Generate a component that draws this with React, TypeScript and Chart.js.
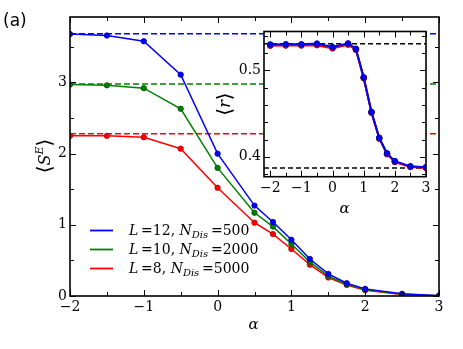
import React, { useEffect, useRef } from 'react';
import { Chart, registerables } from 'chart.js';
Chart.register(...registerables);

// ---------- data ----------
const alpha = [-2, -1.5, -1, -0.5, 0, 0.5, 0.75, 1, 1.25, 1.5, 1.75, 2, 2.5, 3];
const entL12 = [3.68, 3.66, 3.58, 3.11, 2.0, 1.27, 1.04, 0.79, 0.52, 0.31, 0.18, 0.1, 0.03, 0.005];
const entL10 = [2.97, 2.96, 2.92, 2.63, 1.8, 1.17, 0.975, 0.73, 0.48, 0.28, 0.165, 0.09, 0.025, 0.004];
const entL8 = [2.25, 2.25, 2.23, 2.07, 1.52, 1.03, 0.87, 0.66, 0.44, 0.26, 0.155, 0.08, 0.02, 0.003];
const entPage = [3.685, 2.98, 2.28]; // dashed reference levels for L=12,10,8

const rL12 = [0.53, 0.5302, 0.5302, 0.531, 0.527, 0.5312, 0.525, 0.492, 0.452, 0.422, 0.404, 0.395, 0.389, 0.388];
const rL10 = [0.5293, 0.5294, 0.5295, 0.53, 0.5262, 0.5305, 0.5243, 0.4915, 0.4515, 0.4215, 0.4035, 0.3945, 0.3886, 0.3876];
const rL8 = [0.5286, 0.5288, 0.5288, 0.5292, 0.5255, 0.5298, 0.5238, 0.491, 0.451, 0.421, 0.403, 0.394, 0.3882, 0.3872];
const rRefs = [0.5308, 0.387]; // GOE / Poisson levels

const mainXTicks = [-2, -1.5, -1, -0.5, 0, 0.5, 1, 1.5, 2, 2.5, 3];
const mainYTicks = [0, 0.5, 1, 1.5, 2, 2.5, 3, 3.5];
const insetXTicks = [-2, -1.5, -1, -0.5, 0, 0.5, 1, 1.5, 2, 2.5, 3];
const insetYTicks = [0.38, 0.4, 0.42, 0.44, 0.46, 0.48, 0.5, 0.52, 0.54];
const insetYLabels = [0.4, 0.5];

const seriesNames = [
  { L: '12', N: '500' },
  { L: '10', N: '2000' },
  { L: '8', N: '5000' },
];
const colors = ['#0000ff', '#008000', '#ff0000'];
const edgeColors = ['#0000b0', '#005000', '#b00000'];

const MAIN_X = [-2, 3];
const MAIN_Y = [0, 3.92];
const INSET_X = [-2.2, 3];
const INSET_Y = [0.377, 0.545];

const SERIF = "'DejaVu Serif', serif";
const W = 463;
const H = 349;

// ---------- helpers ----------
type Part = { t: string; font: string; dy?: number };
function drawRich(ctx: CanvasRenderingContext2D, parts: Part[], x: number, y: number, align: 'left' | 'center' = 'left') {
  let w = 0;
  for (const p of parts) {
    ctx.font = p.font;
    w += ctx.measureText(p.t).width;
  }
  let cx = align === 'center' ? x - w / 2 : x;
  ctx.textAlign = 'left';
  ctx.textBaseline = 'alphabetic';
  for (const p of parts) {
    ctx.font = p.font;
    ctx.fillText(p.t, cx, y + (p.dy || 0));
    cx += ctx.measureText(p.t).width;
  }
}

const fmt = (v: number) => (v < 0 ? '\u2212' : '') + String(Math.abs(Math.round(v * 100) / 100));
const near = (a: number, b: number) => Math.abs(a - b) < 1e-6;

function framePlugin(o: {
  id: string;
  fill?: boolean;
  xMajor: (v: number) => boolean;
  yMajor: (v: number) => boolean;
  major: number;
  minor: number;
  border: number;
  extra?: (ctx: CanvasRenderingContext2D, chart: any) => void;
}) {
  return {
    id: o.id,
    beforeDraw(chart: any) {
      if (!o.fill) return;
      const { ctx, chartArea: a } = chart;
      ctx.save();
      ctx.fillStyle = '#ffffff';
      ctx.fillRect(a.left, a.top, a.right - a.left, a.bottom - a.top);
      ctx.restore();
    },
    afterDraw(chart: any) {
      const { ctx, chartArea: a, scales } = chart;
      ctx.save();
      ctx.strokeStyle = '#000';
      ctx.lineWidth = 1;
      ctx.beginPath();
      for (const t of scales.x.ticks) {
        const p = Math.round(scales.x.getPixelForValue(t.value)) + 0.5;
        const L = o.xMajor(t.value) ? o.major : o.minor;
        ctx.moveTo(p, a.bottom);
        ctx.lineTo(p, a.bottom - L);
        ctx.moveTo(p, a.top);
        ctx.lineTo(p, a.top + L);
      }
      for (const t of scales.y.ticks) {
        const p = Math.round(scales.y.getPixelForValue(t.value)) + 0.5;
        const L = o.yMajor(t.value) ? o.major : o.minor;
        ctx.moveTo(a.left, p);
        ctx.lineTo(a.left + L, p);
        ctx.moveTo(a.right, p);
        ctx.lineTo(a.right - L, p);
      }
      ctx.stroke();
      ctx.lineWidth = o.border;
      ctx.strokeRect(a.left, a.top, a.right - a.left, a.bottom - a.top);
      ctx.fillStyle = '#000';
      if (o.extra) o.extra(ctx, chart);
      ctx.restore();
    },
  };
}

const pts = (ys: number[]) => alpha.map((x, i) => ({ x, y: ys[i] }));
const level = (y: number, xr: number[]) => [
  { x: xr[0], y },
  { x: xr[1], y },
];

function axisTicks(values: number[], label: (v: number) => string, padding: number, extra: any = {}) {
  return {
    afterBuildTicks: (s: any) => {
      s.ticks = values.map((v) => ({ value: v }));
    },
    ticks: {
      autoSkip: false,
      maxRotation: 0,
      padding,
      color: '#000',
      font: { family: SERIF, size: 14 },
      callback: (v: any) => label(Number(v)),
    },
    grid: { display: false, drawTicks: false },
    border: { display: false },
    ...extra,
  };
}

// ---------- main chart ----------
// Chart.js paints dataset 0 last (on top), so the order here is top -> bottom.
function mainConfig(): any {
  const lines = [entL12, entL10, entL8].map((ys, i) => ({
    data: pts(ys),
    borderColor: colors[i],
    backgroundColor: colors[i],
    borderWidth: 1.5,
    pointRadius: 2.7,
    pointBackgroundColor: colors[i],
    pointBorderColor: edgeColors[i],
    pointBorderWidth: 0.8,
  }));
  const dashed = entPage.map((y, i) => ({
    data: level(y, MAIN_X),
    borderColor: colors[i],
    borderWidth: 1.5,
    borderDash: [6, 3],
    pointRadius: 0,
  }));
  return {
    type: 'line',
    data: { datasets: [...lines, ...dashed] },
    options: {
      animation: false,
      responsive: false,
      events: [],
      layout: { padding: { left: 0, top: 17, right: 24, bottom: 0 } },
      plugins: { legend: { display: false }, tooltip: { enabled: false } },
      scales: {
        x: {
          type: 'linear',
          min: MAIN_X[0],
          max: MAIN_X[1],
          afterFit: (s: any) => {
            s.height = 53;
          },
          ...axisTicks(mainXTicks, (v) => (Number.isInteger(v) ? fmt(v) : ''), 3),
        },
        y: {
          type: 'linear',
          min: MAIN_Y[0],
          max: MAIN_Y[1],
          afterFit: (s: any) => {
            s.width = 70;
          },
          ...axisTicks(mainYTicks, (v) => (Number.isInteger(v) ? fmt(v) : ''), 3),
        },
      },
    },
    plugins: [
      framePlugin({
        id: 'mainFrame',
        xMajor: (v) => Number.isInteger(v),
        yMajor: (v) => Number.isInteger(v),
        major: 6,
        minor: 4,
        border: 1.6,
        extra: (ctx) => {
          // panel tag
          ctx.font = "17px 'DejaVu Sans', sans-serif";
          ctx.textAlign = 'left';
          ctx.textBaseline = 'alphabetic';
          ctx.fillText('(a)', 3, 26);
          // x label
          drawRich(ctx, [{ t: '\u03b1', font: `italic 15px ${SERIF}` }], 253.5, 329, 'center');
          // y label
          ctx.save();
          ctx.translate(44, 156);
          ctx.rotate(-Math.PI / 2);
          drawRich(
            ctx,
            [
              { t: '\u27e8', font: `20px ${SERIF}`, dy: 1 },
              { t: 'S', font: `italic 16px ${SERIF}` },
              { t: 'E', font: `italic 11px ${SERIF}`, dy: -7 },
              { t: '\u27e9', font: `20px ${SERIF}`, dy: 1 },
            ],
            0,
            6,
            'center'
          );
          ctx.restore();
          // legend
          const rows = [230, 249, 268];
          seriesNames.forEach((s, i) => {
            const y = rows[i];
            ctx.strokeStyle = colors[i];
            ctx.lineWidth = 1.8;
            ctx.beginPath();
            ctx.moveTo(90, y + 0.5);
            ctx.lineTo(113, y + 0.5);
            ctx.stroke();
            ctx.fillStyle = '#000';
            drawRich(
              ctx,
              [
                { t: 'L', font: `italic 14px ${SERIF}` },
                { t: '\u2009=' + s.L + ', ', font: `14px ${SERIF}` },
                { t: 'N', font: `italic 14px ${SERIF}` },
                { t: 'Dis', font: `italic 10px ${SERIF}`, dy: 3 },
                { t: '\u2009=' + s.N, font: `14px ${SERIF}` },
              ],
              129,
              y + 5
            );
          });
        },
      }),
    ],
  };
}

// ---------- inset ----------
function insetConfig(): any {
  const order = [0, 2, 1]; // blue on top, then red, then green
  const series = [rL12, rL10, rL8];
  const lines = order.map((i) => ({
    data: pts(series[i]),
    borderColor: colors[i],
    borderWidth: 2,
    pointRadius: 2.8,
    pointBackgroundColor: colors[i],
    pointBorderColor: edgeColors[i],
    pointBorderWidth: 1,
  }));
  const dashed = rRefs.map((y) => ({
    data: level(y, INSET_X),
    borderColor: '#000',
    borderWidth: 1.5,
    borderDash: [5, 3],
    pointRadius: 0,
  }));
  return {
    type: 'line',
    data: { datasets: [...lines, ...dashed] },
    options: {
      animation: false,
      responsive: false,
      events: [],
      layout: { padding: { left: 220, top: 31.5, right: 37, bottom: 132.3 } },
      plugins: { legend: { display: false }, tooltip: { enabled: false } },
      scales: {
        x: {
          type: 'linear',
          min: INSET_X[0],
          max: INSET_X[1],
          afterFit: (s: any) => {
            s.height = 40;
          },
          ...axisTicks(insetXTicks, (v) => (Number.isInteger(v) ? fmt(v) : ''), 3),
        },
        y: {
          type: 'linear',
          min: INSET_Y[0],
          max: INSET_Y[1],
          afterFit: (s: any) => {
            s.width = 44;
          },
          ...axisTicks(
            insetYTicks,
            (v) => (insetYLabels.some((l) => near(l, v)) ? v.toFixed(1) : ''),
            3
          ),
        },
      },
    },
    plugins: [
      framePlugin({
        id: 'insetFrame',
        fill: true,
        xMajor: (v) => Number.isInteger(v),
        yMajor: (v) => insetYLabels.some((l) => near(l, v)),
        major: 6,
        minor: 4,
        border: 1.6,
        extra: (ctx) => {
          drawRich(ctx, [{ t: '\u03b1', font: `italic 15px ${SERIF}` }], 344.5, 213, 'center');
          ctx.save();
          ctx.translate(224, 104);
          ctx.rotate(-Math.PI / 2);
          drawRich(
            ctx,
            [
              { t: '\u27e8', font: `20px ${SERIF}`, dy: 1 },
              { t: 'r', font: `italic 16px ${SERIF}` },
              { t: '\u27e9', font: `20px ${SERIF}`, dy: 1 },
            ],
            0,
            6,
            'center'
          );
          ctx.restore();
        },
      }),
    ],
  };
}

export default function App() {
  const mainRef = useRef<HTMLCanvasElement>(null);
  const insetRef = useRef<HTMLCanvasElement>(null);
  useEffect(() => {
    const a = new Chart(mainRef.current!, mainConfig());
    const b = new Chart(insetRef.current!, insetConfig());
    return () => {
      a.destroy();
      b.destroy();
    };
  }, []);
  const cs: React.CSSProperties = { position: 'absolute', left: 0, top: 0, width: W, height: H };
  return (
    <div style={{ position: 'fixed', left: 0, top: 0, width: W, height: H, background: '#fff' }}>
      <canvas ref={mainRef} width={W} height={H} style={cs} />
      <canvas ref={insetRef} width={W} height={H} style={cs} />
    </div>
  );
}
